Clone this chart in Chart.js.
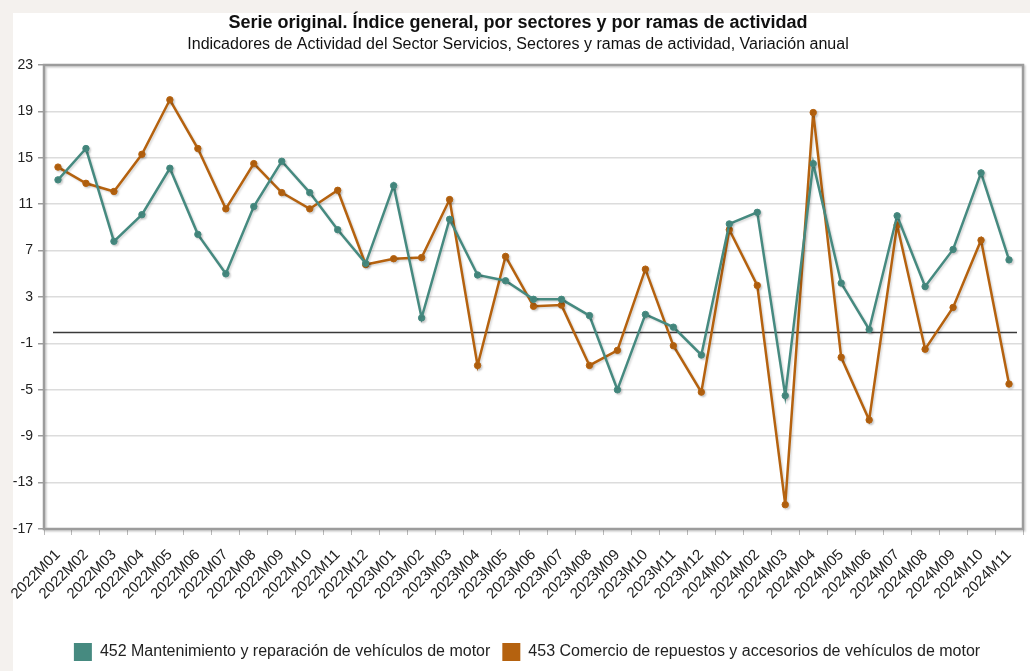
<!DOCTYPE html>
<html>
<head>
<meta charset="utf-8">
<script src="https://cdn.jsdelivr.net/npm/chart.js@4.4.1/dist/chart.umd.min.js"></script>
<style>
html,body{margin:0;padding:0;background:#f4f1ee;overflow:hidden;}
#c{display:block;}
</style>
</head>
<body>
<canvas id="c" width="1030" height="671"></canvas>
<script>
const categories = ['2022M01','2022M02','2022M03','2022M04','2022M05','2022M06','2022M07','2022M08','2022M09','2022M10','2022M11','2022M12',
  '2023M01','2023M02','2023M03','2023M04','2023M05','2023M06','2023M07','2023M08','2023M09','2023M10','2023M11','2023M12',
  '2024M01','2024M02','2024M03','2024M04','2024M05','2024M06','2024M07','2024M08','2024M09','2024M10','2024M11'];
const serie452 = [13.1, 15.8, 7.8, 10.1, 14.1, 8.4, 5.0, 10.8, 14.7, 12.0, 8.8, 5.9,
  12.6, 1.2, 9.7, 4.9, 4.4, 2.8, 2.8, 1.4, -5.0, 1.5, 0.4, -2.0,
  9.3, 10.3, -5.5, 14.5, 4.2, 0.2, 10.0, 3.9, 7.1, 13.7, 6.2];
const serie453 = [14.2, 12.8, 12.1, 15.3, 20.0, 15.8, 10.6, 14.5, 12.0, 10.6, 12.2, 5.8,
  6.3, 6.4, 11.4, -2.9, 6.5, 2.2, 2.3, -2.9, -1.6, 5.4, -1.2, -5.2,
  8.8, 4.0, -14.9, 18.9, -2.2, -7.6, 9.2, -1.5, 2.1, 7.9, -4.5];
const yTickValues = [-17, -13, -9, -5, -1, 3, 7, 11, 15, 19, 23];
const seriesNames = ['452 Mantenimiento y reparación de vehículos de motor',
  '453 Comercio de repuestos y accesorios de vehículos de motor'];
const titleText = 'Serie original. Índice general, por sectores y por ramas de actividad';
const subtitleText = 'Indicadores de Actividad del Sector Servicios, Sectores y ramas de actividad, Variación anual';
const referenceValue = 0;

const FAMILY = '"Liberation Sans", Arial, Helvetica, sans-serif';
const TEAL = '#468a80';
const ORANGE = '#b5620f';

const bgPlugin = {
  id: 'bg',
  beforeDraw(chart) {
    const ctx = chart.ctx;
    ctx.save();
    ctx.fillStyle = '#f4f1ee';
    ctx.fillRect(0, 0, chart.width, chart.height);
    ctx.fillStyle = '#ffffff';
    ctx.fillRect(13, 13, chart.width - 13, chart.height - 13);
    ctx.restore();
  }
};

const legendShift = {
  id: 'legendShift',
  afterLayout(chart) {
    if (chart.legend) {
      chart.legend.left += 9;
      chart.legend.right += 9;
    }
  }
};

const framePlugin = {
  id: 'frame',
  beforeDatasetsDraw(chart) {
    const ctx = chart.ctx, a = chart.chartArea, y = chart.scales.y;
    ctx.save();
    const y0 = Math.round(y.getPixelForValue(referenceValue)) + 0.5;
    ctx.strokeStyle = '#3a3a3a';
    ctx.lineWidth = 1.5;
    ctx.beginPath();
    ctx.moveTo(a.left + 9, y0);
    ctx.lineTo(a.right - 6, y0);
    ctx.stroke();
    ctx.shadowColor = 'rgba(0,0,0,0.18)';
    ctx.shadowOffsetX = 1.5;
    ctx.shadowOffsetY = 1.5;
    ctx.shadowBlur = 2;
    ctx.strokeStyle = '#9c9c9c';
    ctx.lineWidth = 2.5;
    ctx.strokeRect(a.left, a.top, a.right - a.left, a.bottom - a.top);
    ctx.restore();
    ctx.save();
    ctx.shadowColor = 'rgba(0,0,0,0.15)';
    ctx.shadowOffsetX = 1.5;
    ctx.shadowOffsetY = 1.5;
    ctx.shadowBlur = 2;
  },
  afterDatasetsDraw(chart) {
    chart.ctx.restore();
  }
};

new Chart(document.getElementById('c'), {
  type: 'line',
  data: {
    labels: categories,
    datasets: [
      { label: seriesNames[0], data: serie452, borderColor: TEAL, backgroundColor: TEAL,
        pointBackgroundColor: TEAL, pointBorderColor: TEAL, borderWidth: 2.5, pointRadius: 3.2, pointBorderWidth: 1, tension: 0 },
      { label: seriesNames[1], data: serie453, borderColor: ORANGE, backgroundColor: ORANGE,
        pointBackgroundColor: ORANGE, pointBorderColor: ORANGE, borderWidth: 2.5, pointRadius: 3.2, pointBorderWidth: 1, tension: 0 }
    ]
  },
  options: {
    responsive: false,
    animation: false,
    events: [],
    devicePixelRatio: 1,
    layout: { padding: { left: 13, top: 13, right: 7, bottom: 0 } },
    plugins: {
      title: { display: true, text: titleText, color: '#111', font: { family: FAMILY, size: 18, weight: 'bold', lineHeight: 1.0 }, padding: { top: 1, bottom: 3.4 } },
      subtitle: { display: true, text: subtitleText, color: '#111', font: { family: FAMILY, size: 16, weight: 'normal', lineHeight: 1.2 }, padding: { top: 0, bottom: 10.4 } },
      legend: {
        position: 'bottom',
        maxHeight: 42,
        labels: {
          boxWidth: 18, boxHeight: 18, padding: 12, color: '#222',
          font: { family: FAMILY, size: 16 },
          generateLabels(chart) {
            return Chart.defaults.plugins.legend.labels.generateLabels(chart).map(l => Object.assign(l, { lineWidth: 0 }));
          }
        }
      },
      tooltip: { enabled: false }
    },
    scales: {
      x: {
        type: 'category',
        offset: true,
        grid: { display: true, drawOnChartArea: false, drawTicks: true, tickLength: 6, color: '#bbbbbb', offset: true },
        border: { display: false },
        ticks: { autoSkip: false, maxRotation: 45, minRotation: 45, color: '#222', font: { family: FAMILY, size: 15 }, padding: 11 },
        afterFit(s) { s.height = 102; s.paddingLeft = 0; s.paddingRight = 0; }
      },
      y: {
        min: -17, max: 23,
        afterBuildTicks(s) { s.ticks = yTickValues.map(v => ({ value: v })); },
        grid: { color: '#dcdcdc', lineWidth: 1.5, tickLength: 6, tickColor: '#9c9c9c', drawTicks: true },
        border: { display: false },
        ticks: { color: '#222', font: { family: FAMILY, size: 14 }, padding: 5 },
        afterFit(s) { s.width = 31; }
      }
    }
  },
  plugins: [bgPlugin, legendShift, framePlugin]
});
</script>
</body>
</html>
